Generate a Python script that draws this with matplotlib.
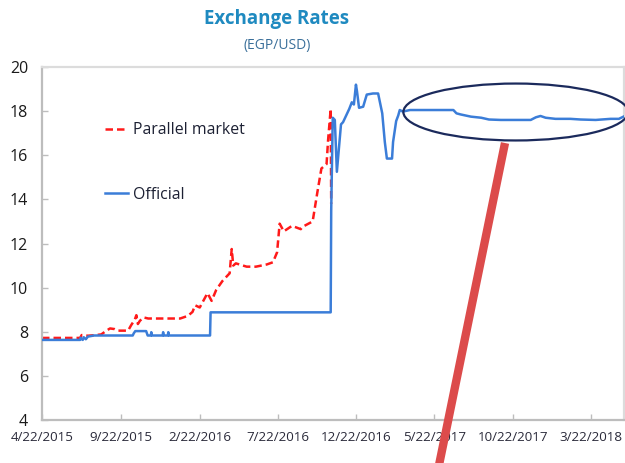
import pandas as pd
import matplotlib
matplotlib.use("Agg")
import matplotlib.pyplot as plt
import matplotlib.dates as mdates
from matplotlib.patches import Ellipse
from matplotlib.lines import Line2D

plt.rcParams["font.family"] = ["Open Sans", "DejaVu Sans"]

# --- data ---
parallel_dates = [
    "2015-04-22", "2015-07-05", "2015-07-08", "2015-07-20", "2015-08-05", "2015-08-15",
    "2015-08-25", "2015-09-01", "2015-09-10", "2015-09-16", "2015-10-06", "2015-10-12",
    "2015-10-19", "2015-10-22", "2015-10-25", "2015-10-29", "2015-11-05", "2015-11-14",
    "2016-01-15", "2016-01-30", "2016-02-08", "2016-02-13", "2016-02-22", "2016-03-08",
    "2016-03-16", "2016-03-25", "2016-04-06", "2016-04-20", "2016-04-24", "2016-04-27",
    "2016-05-02", "2016-05-23", "2016-06-10", "2016-07-01", "2016-07-13", "2016-07-21",
    "2016-07-26", "2016-08-03", "2016-08-19", "2016-09-05", "2016-09-08", "2016-09-28",
    "2016-10-07", "2016-10-15", "2016-10-25", "2016-10-28", "2016-11-02", "2016-11-03",
]
parallel_rate = [
    7.72, 7.72, 7.85, 7.82, 7.85, 7.88,
    8.05, 8.15, 8.12, 8.05, 8.05, 8.30,
    8.55, 8.75, 8.35, 8.50, 8.65, 8.60,
    8.60, 8.72, 8.90, 9.20, 9.10, 9.75,
    9.40, 9.90, 10.30, 10.65, 11.75, 11.00,
    11.10, 10.95, 10.95, 11.05, 11.15, 11.60,
    12.90, 12.55, 12.80, 12.65, 12.75, 13.00,
    14.30, 15.40, 15.60, 16.70, 18.10, 13.80,
]

official_dates = [
    "2015-04-22", "2015-07-05", "2015-07-06", "2015-07-10", "2015-07-12", "2015-07-16",
    "2015-07-20", "2015-08-01", "2015-10-15", "2015-10-17", "2015-10-20", "2015-11-10",
    "2015-11-13", "2015-11-19", "2015-11-20", "2015-11-21", "2015-12-12", "2015-12-13",
    "2015-12-14", "2015-12-22", "2015-12-23", "2015-12-24", "2016-03-13", "2016-03-14",
    "2016-11-02", "2016-11-03", "2016-11-06", "2016-11-10", "2016-11-14", "2016-11-22",
    "2016-11-26", "2016-12-02", "2016-12-08", "2016-12-13", "2016-12-17", "2016-12-21",
    "2016-12-23", "2016-12-27", "2017-01-04", "2017-01-11", "2017-01-23", "2017-02-02",
    "2017-02-10", "2017-02-15", "2017-02-19", "2017-03-01", "2017-03-03", "2017-03-09",
    "2017-03-13", "2017-03-16", "2017-03-22", "2017-04-05", "2017-06-28", "2017-07-04",
    "2017-07-12", "2017-07-22", "2017-08-01", "2017-08-21", "2017-09-05", "2017-09-28",
    "2017-11-25", "2017-12-05", "2017-12-14", "2017-12-24", "2018-01-12", "2018-02-10",
    "2018-03-02", "2018-03-31", "2018-04-29", "2018-05-15", "2018-05-24",
]
official_rate = [
    7.63, 7.63, 7.73, 7.63, 7.75, 7.66,
    7.78, 7.83, 7.83, 7.93, 8.03, 8.03,
    7.83, 7.83, 7.98, 7.83, 7.83, 7.98,
    7.83, 7.83, 7.98, 7.83, 7.83, 8.88,
    8.88, 13.50, 17.70, 17.60, 15.25, 17.40,
    17.50, 17.80, 18.10, 18.40, 18.30, 19.20,
    18.90, 18.15, 18.20, 18.75, 18.80, 18.80,
    17.90, 16.60, 15.85, 15.85, 16.60, 17.55,
    17.80, 18.05, 17.98, 18.05, 18.05, 17.90,
    17.85, 17.80, 17.75, 17.70, 17.62, 17.60,
    17.60, 17.72, 17.78, 17.70, 17.65, 17.65,
    17.62, 17.60, 17.65, 17.65, 17.75,
]

tick_dates = ["2015-04-22", "2015-09-22", "2016-02-22", "2016-07-22",
              "2016-12-22", "2017-05-22", "2017-10-22", "2018-03-22"]
tick_labels = ["4/22/2015", "9/22/2015", "2/22/2016", "7/22/2016",
               "12/22/2016", "5/22/2017", "10/22/2017", "3/22/2018"]

parallel_dates = pd.to_datetime(parallel_dates)
official_dates = pd.to_datetime(official_dates)
tick_dates = pd.to_datetime(tick_dates)

# --- figure ---
fig = plt.figure(figsize=(6.25, 4.63), dpi=100)
ax = fig.add_axes([42 / 625, 43 / 463, 581.5 / 625, 353 / 463])

ax.plot(official_dates, official_rate, color="#3b7dd8", lw=1.8, label="Official", zorder=3)
ax.plot(parallel_dates, parallel_rate, color="#ff1a1a", lw=1.8, ls=(0, (3, 1.6)),
        label="Parallel market", zorder=2)

ax.set_ylim(4, 20)
ax.set_yticks(range(4, 21, 2))
ax.set_xlim(pd.Timestamp("2015-04-22"), pd.Timestamp("2018-05-24"))
ax.set_xticks(tick_dates)
ax.set_xticklabels(tick_labels)

for side in ["left", "bottom"]:
    ax.spines[side].set_color("#bdbdbd")
    ax.spines[side].set_linewidth(1.6)
for side in ["top", "right"]:
    ax.spines[side].set_color("#dcdcdc")
    ax.spines[side].set_linewidth(1.6)

ax.tick_params(axis="both", direction="in", length=4, width=1, color="#bdbdbd")
ax.tick_params(axis="y", labelsize=11.5, labelcolor="#1a1a1a", pad=10)
ax.tick_params(axis="x", labelsize=9.6, labelcolor="#2a2a3a", pad=8)

# legend: two entries far apart
handles, labels = ax.get_legend_handles_labels()
leg = ax.legend(handles[::-1], labels[::-1], loc="upper left",
                bbox_to_anchor=(63 / 581.5, 0.843), frameon=False, fontsize=11.4,
                handlelength=1.45, handletextpad=0.3, labelspacing=3.05,
                borderpad=0, borderaxespad=0)
for t in leg.get_texts():
    t.set_color("#1c2033")

# titles
fig.text(277 / 625, 1 - 19 / 463, "Exchange Rates", ha="center", va="center",
         fontsize=13.5, fontweight="bold", color="#1f8ac0")
fig.text(277 / 625, 1 - 46 / 463, "(EGP/USD)", ha="center", va="center",
         fontsize=10, color="#3a6f9a")

# annotation: ellipse around the post-float plateau
ell = Ellipse((mdates.date2num(pd.Timestamp("2017-10-27")), 17.96),
              width=436, height=2.58, fill=False, edgecolor="#1b2a5c",
              lw=1.6, zorder=4, clip_on=False)
ax.add_patch(ell)

# thick red pointer line
fig.add_artist(Line2D([505 / 625, 438 / 625], [1 - 143 / 463, 1 - 470 / 463],
                      color="#dc4b4b", lw=6, solid_capstyle="butt", zorder=10))

fig.savefig("out.png", dpi=100)
